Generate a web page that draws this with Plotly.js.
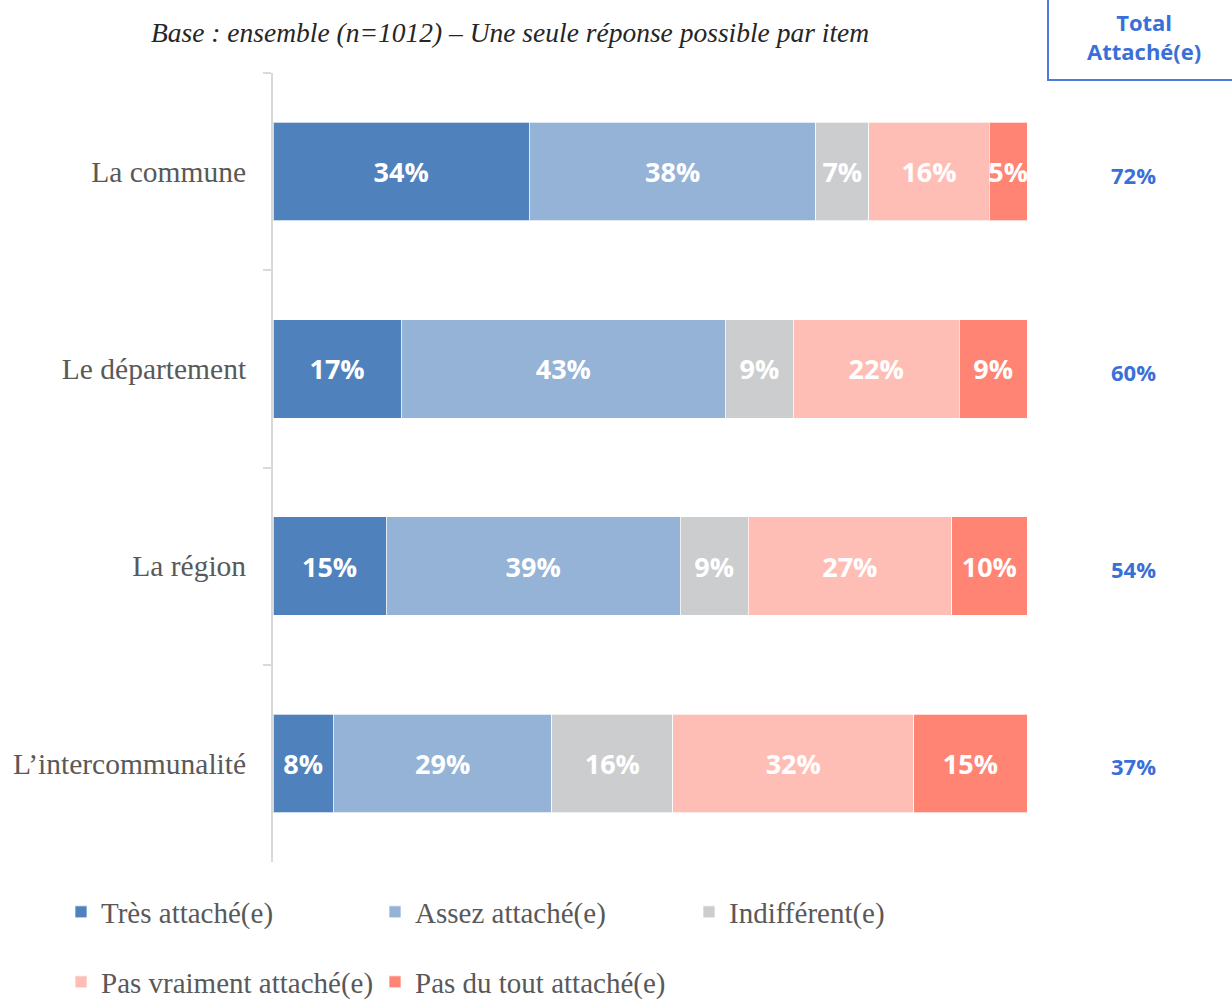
<!DOCTYPE html>
<html>
<head>
<meta charset="utf-8">
<script src="https://cdn.plot.ly/plotly-3.0.1.min.js"></script>
<style>html,body{margin:0;padding:0;background:#fff;}#chart{width:1232px;height:1000px;}</style>
</head>
<body>
<div id="chart"></div>
<script>
const categories = ["La commune", "Le département", "La région", "L\u2019intercommunalité"];
const seriesNames = ["Très attaché(e)", "Assez attaché(e)", "Indifférent(e)", "Pas vraiment attaché(e)", "Pas du tout attaché(e)"];
const tresAttache = [34, 17, 15, 8];
const assezAttache = [38, 43, 39, 29];
const indifferent = [7, 9, 9, 16];
const pasVraiment = [16, 22, 27, 32];
const pasDuTout = [5, 9, 10, 15];
const totalAttache = [72, 60, 54, 37];
const subtitle = "Base : ensemble (n=1012) \u2013 Une seule réponse possible par item";
const totalHeader = "Total<br>Attaché(e)";

const seriesValues = [tresAttache, assezAttache, indifferent, pasVraiment, pasDuTout];
const colors = ["#4F81BD", "#95B3D7", "#CCCDCF", "#FFBEB5", "#FF8474"];
const legendFor = ["legend", "legend", "legend", "legend2", "legend2"];

const W = 1232, H = 1000;
const M = {l: 273, r: 205, t: 73, b: 138, autoexpand: false};
const pw = W - M.l - M.r, ph = H - M.t - M.b;
const px2x = p => (p - M.l) / pw;
const py2y = p => (H - M.b - p) / ph;

const traces = seriesValues.map((vals, i) => ({
  type: "bar",
  orientation: "h",
  name: seriesNames[i],
  y: categories,
  x: vals,
  text: vals.map(v => v + "%"),
  textposition: "inside",
  insidetextanchor: "middle",
  textangle: 0,
  constraintext: "none",
  cliponaxis: false,
  textfont: {family: "Open Sans", size: 27, color: "#FFFFFF", weight: 700},
  marker: {color: colors[i], line: {color: "rgba(255,255,255,0.7)", width: 1}},
  hoverinfo: "skip",
  legend: legendFor[i]
}));

const annotations = [
  {text: subtitle, xref: "paper", yref: "paper", x: px2x(510), y: py2y(32),
   xanchor: "center", yanchor: "middle", showarrow: false,
   font: {family: "Liberation Serif", size: 27.5, color: "#262626", style: "italic"}},
  {text: totalHeader, xref: "paper", yref: "paper", x: px2x(1144), y: py2y(36),
   xanchor: "center", yanchor: "middle", showarrow: false,
   font: {family: "Open Sans", size: 22, color: "#3A6FD8", weight: 700}}
];
totalAttache.forEach((v, i) => {
  annotations.push({text: v + "%", xref: "paper", yref: "y", x: px2x(1133), y: categories[i],
    yshift: -3, xanchor: "center", yanchor: "middle", showarrow: false,
    font: {family: "Open Sans", size: 22, color: "#3A6FD8", weight: 700}});
});

const legendFont = {family: "Liberation Serif", size: 29, color: "#595959"};

const layout = {
  width: W, height: H,
  margin: M,
  paper_bgcolor: "#FFFFFF", plot_bgcolor: "#FFFFFF",
  barmode: "stack",
  bargap: 0.5,
  uniformtext: {minsize: 27, mode: "show"},
  xaxis: {range: [0, 100], visible: false, fixedrange: true},
  yaxis: {
    type: "category", autorange: "reversed",
    showline: true, linecolor: "#D9D9D9", linewidth: 2,
    ticks: "outside", tickson: "boundaries", ticklen: 8, tickcolor: "#D9D9D9", tickwidth: 2,
    ticklabelstandoff: 19,
    tickfont: {family: "Liberation Serif", size: 29.5, color: "#595959"},
    showgrid: false, zeroline: false, fixedrange: true
  },
  showlegend: true,
  legend: {orientation: "h", x: px2x(61), xanchor: "left", y: py2y(912), yanchor: "middle",
    entrywidth: 269, entrywidthmode: "pixels", traceorder: "normal",
    font: legendFont, bgcolor: "rgba(0,0,0,0)"},
  legend2: {orientation: "h", x: px2x(61), xanchor: "left", y: py2y(982), yanchor: "middle",
    entrywidth: 269, entrywidthmode: "pixels", traceorder: "normal",
    font: legendFont, bgcolor: "rgba(0,0,0,0)"},
  annotations: annotations,
  shapes: [
    {type: "rect", xref: "paper", yref: "paper", x0: px2x(1048), x1: px2x(1300), y0: py2y(80), y1: py2y(-20),
     line: {color: "#4A7BDD", width: 2}, fillcolor: "rgba(0,0,0,0)", layer: "above"}
  ]
};

Plotly.newPlot("chart", traces, layout, {displayModeBar: false, staticPlot: true});
</script>
</body>
</html>
